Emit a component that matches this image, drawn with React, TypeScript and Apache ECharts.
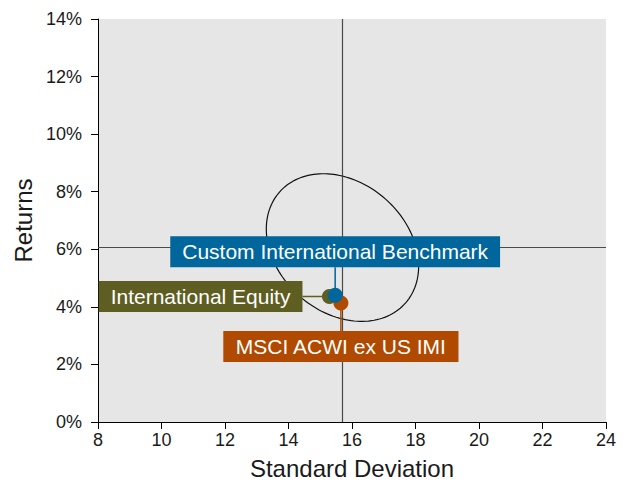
import React, { useEffect, useRef } from 'react';
import * as echarts from 'echarts';

// ---- Data ----
const seriesNames = ['International Equity', 'MSCI ACWI ex US IMI', 'Custom International Benchmark'];
const stdDevValues = [15.29, 15.65, 15.47];
const returnValues = [4.36, 4.13, 4.4];

const meanStdDev = 15.7;
const meanReturn = 6.06;

// ellipse: centre and the two conjugate (semi-axis) end points, in data units
const ellipseCenter = [15.7, 6.06];
const ellipseAxisEndA = [17.69, 4.14];
const ellipseAxisEndB = [17.04, 7.76];

// ---- Styles ----
const COLORS = ['#5E5E22', '#B04A00', '#00669B'];
const LABEL_PLACEMENT = [
  { side: 'left', gap: 27 },
  { side: 'bottom', gap: 28 },
  { side: 'top', gap: 28 },
];
const FONT = '"Liberation Sans", Arial, Helvetica, sans-serif';

export default function App() {
  const ref = useRef<HTMLDivElement>(null);

  useEffect(() => {
    if (!ref.current) return;
    const chart = echarts.init(ref.current, undefined, { renderer: 'svg' });

    const pointData = stdDevValues.map((sd, i) => [sd, returnValues[i]]);

    const axisCommon = {
      axisLine: { show: true, lineStyle: { color: '#000', width: 1 } },
      axisTick: { show: true, inside: false, length: 7, lineStyle: { color: '#000' } },
      splitLine: { show: false },
      nameTextStyle: { fontSize: 24, color: '#1a1a1a', fontFamily: FONT },
    };

    chart.setOption({
      animation: false,
      textStyle: { fontFamily: FONT },
      grid: {
        left: 98,
        right: 24,
        top: 19,
        bottom: 65,
        show: true,
        backgroundColor: '#E6E6E6',
        borderWidth: 0,
      },
      xAxis: {
        type: 'value',
        min: 8,
        max: 24,
        interval: 2,
        name: 'Standard Deviation',
        nameLocation: 'middle',
        nameGap: 34,
        ...axisCommon,
        axisLabel: { fontSize: 18, color: '#1a1a1a', margin: 9, fontFamily: FONT },
      },
      yAxis: {
        type: 'value',
        min: 0,
        max: 14,
        interval: 2,
        name: 'Returns',
        nameLocation: 'middle',
        nameRotate: 90,
        nameGap: 58,
        ...axisCommon,
        axisLabel: { fontSize: 18, color: '#1a1a1a', margin: 16, formatter: '{value}%', fontFamily: FONT },
      },
      series: [
        {
          type: 'custom',
          z: 2,
          silent: true,
          data: [[ellipseCenter[0], ellipseCenter[1]]],
          encode: { x: 0, y: 1 },
          renderItem: (params: any, api: any) => {
            const c = api.coord(ellipseCenter);
            const a = api.coord(ellipseAxisEndA);
            const b = api.coord(ellipseAxisEndB);
            const u = [a[0] - c[0], a[1] - c[1]];
            const v = [b[0] - c[0], b[1] - c[1]];
            const pts: number[][] = [];
            const n = 160;
            for (let k = 0; k <= n; k++) {
              const t = (2 * Math.PI * k) / n;
              pts.push([
                c[0] + u[0] * Math.cos(t) + v[0] * Math.sin(t),
                c[1] + u[1] * Math.cos(t) + v[1] * Math.sin(t),
              ]);
            }
            return {
              type: 'polygon',
              shape: { points: pts },
              style: { fill: 'none', stroke: '#111', lineWidth: 1.2 },
            };
          },
          markLine: {
            silent: true,
            symbol: ['none', 'none'],
            label: { show: false },
            lineStyle: { color: '#4a4a4a', width: 1.2, type: 'solid' },
            data: [{ xAxis: meanStdDev }, { yAxis: meanReturn }],
          },
        },
        {
          type: 'custom',
          z: 5,
          silent: true,
          data: pointData,
          encode: { x: 0, y: 1 },
          renderItem: (params: any, api: any) => {
            const i = params.dataIndex;
            const p = api.coord([api.value(0), api.value(1)]);
            const color = COLORS[i];
            const pl = LABEL_PLACEMENT[i];
            let lx = p[0];
            let ly = p[1];
            let align = 'center';
            let va = 'middle';
            if (pl.side === 'left') {
              lx = p[0] - pl.gap;
              align = 'right';
              va = 'middle';
            } else if (pl.side === 'bottom') {
              ly = p[1] + pl.gap;
              align = 'center';
              va = 'top';
            } else {
              ly = p[1] - pl.gap;
              align = 'center';
              va = 'bottom';
            }
            return {
              type: 'group',
              children: [
                {
                  type: 'line',
                  shape: { x1: p[0], y1: p[1], x2: lx, y2: ly },
                  style: { stroke: color, lineWidth: 1.5 },
                },
                {
                  type: 'circle',
                  shape: { cx: p[0], cy: p[1], r: 7.5 },
                  style: { fill: color },
                },
                {
                  type: 'text',
                  x: lx,
                  y: ly,
                  style: {
                    text: seriesNames[i],
                    fill: '#ffffff',
                    fontSize: 21,
                    fontFamily: FONT,
                    align,
                    verticalAlign: va,
                    backgroundColor: color,
                    padding: [5, 12, 5, 12],
                  },
                },
              ],
            };
          },
        },
      ],
    });

    return () => chart.dispose();
  }, []);

  return (
    <div
      ref={ref}
      style={{ position: 'fixed', left: 0, top: 0, width: 630, height: 487, background: '#fff' }}
    />
  );
}
